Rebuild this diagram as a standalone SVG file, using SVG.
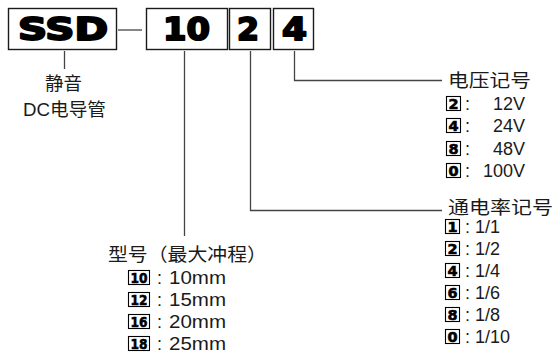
<svg xmlns="http://www.w3.org/2000/svg" width="555" height="357" viewBox="0 0 555 357">
<style>
.box{fill:#fff;stroke:#1a1a1a;stroke-width:1.4}
.hd{font-family:"DejaVu Sans","Liberation Sans",sans-serif;font-weight:bold;font-size:32px;fill:#000;stroke:#000;stroke-width:2;stroke-linejoin:round}
.cn{font-family:"Liberation Sans","Noto Sans CJK SC",sans-serif;font-size:18.5px;fill:#1a1a1a}
.tx{font-family:"Liberation Sans",sans-serif;font-size:18px;fill:#1a1a1a}
.kb{fill:#fff;stroke:#000;stroke-width:1.1}
.kd{font-family:"DejaVu Sans","Liberation Sans",sans-serif;font-weight:bold;font-size:14.5px;fill:#000;stroke:#000;stroke-width:0.6;text-anchor:middle}
.ln{fill:none;stroke:#444;stroke-width:1.3}
</style>

<g id="connectors">
<line class="ln" x1="118" y1="30" x2="142" y2="30"/>
<line class="ln" x1="64.5" y1="51" x2="64.5" y2="69"/>
<line class="ln" x1="184.5" y1="51" x2="184.5" y2="236"/>
<polyline class="ln" points="250.5,51 250.5,210.5 442,210.5"/>
<polyline class="ln" points="294.5,51 294.5,80.5 442,80.5"/>
</g>

<g id="node-ssd">
<rect class="box" x="8.5" y="8.5" width="108" height="41"/>
<text class="hd" x="18" y="40" textLength="90" lengthAdjust="spacingAndGlyphs">SSD</text>
</g>
<g id="node-10">
<rect class="box" x="146.5" y="8.5" width="81" height="41"/>
<text class="hd" x="163" y="40" textLength="47" lengthAdjust="spacingAndGlyphs">10</text>
</g>
<g id="node-2">
<rect class="box" x="229.5" y="8.5" width="41" height="41"/>
<text class="hd" x="237" y="40" textLength="22" lengthAdjust="spacingAndGlyphs">2</text>
</g>
<g id="node-4">
<rect class="box" x="273.5" y="8.5" width="40" height="41"/>
<text class="hd" x="282" y="40" textLength="25" lengthAdjust="spacingAndGlyphs">4</text>
</g>

<g id="label-ssd">
<text class="cn" x="45" y="90" textLength="37" lengthAdjust="spacingAndGlyphs">静音</text>
<text class="cn" x="23" y="116" textLength="83" lengthAdjust="spacingAndGlyphs">DC电导管</text>
</g>

<g id="label-voltage">
<text class="cn" x="448" y="87" textLength="83" lengthAdjust="spacingAndGlyphs">电压记号</text>
<rect class="kb" x="446.5" y="96.5" width="14" height="14"/><text class="kd" x="453.5" y="108.8">2</text>
<text class="tx" x="465" y="110">:</text><text class="tx" x="525" y="110" text-anchor="end">12V</text>
<rect class="kb" x="446.5" y="118.5" width="14" height="14"/><text class="kd" x="453.5" y="130.8">4</text>
<text class="tx" x="465" y="132">:</text><text class="tx" x="525" y="132" text-anchor="end">24V</text>
<rect class="kb" x="446.5" y="141.5" width="14" height="14"/><text class="kd" x="453.5" y="153.8">8</text>
<text class="tx" x="465" y="155">:</text><text class="tx" x="525" y="155" text-anchor="end">48V</text>
<rect class="kb" x="446.5" y="163.5" width="14" height="14"/><text class="kd" x="453.5" y="175.8">0</text>
<text class="tx" x="465" y="177">:</text><text class="tx" x="525" y="177" text-anchor="end">100V</text>
</g>

<g id="label-duty">
<text class="cn" x="448" y="214" textLength="105" lengthAdjust="spacingAndGlyphs">通电率记号</text>
<rect class="kb" x="445.5" y="219.5" width="14" height="14"/><text class="kd" x="452.5" y="231.8">1</text>
<text class="tx" x="465" y="233">: 1/1</text>
<rect class="kb" x="445.5" y="241.5" width="14" height="14"/><text class="kd" x="452.5" y="253.8">2</text>
<text class="tx" x="465" y="255">: 1/2</text>
<rect class="kb" x="445.5" y="263.5" width="14" height="14"/><text class="kd" x="452.5" y="275.8">4</text>
<text class="tx" x="465" y="277">: 1/4</text>
<rect class="kb" x="445.5" y="285.5" width="14" height="14"/><text class="kd" x="452.5" y="297.8">6</text>
<text class="tx" x="465" y="299">: 1/6</text>
<rect class="kb" x="445.5" y="307.5" width="14" height="14"/><text class="kd" x="452.5" y="319.8">8</text>
<text class="tx" x="465" y="321">: 1/8</text>
<rect class="kb" x="445.5" y="329.5" width="14" height="14"/><text class="kd" x="452.5" y="341.8">0</text>
<text class="tx" x="465" y="343">: 1/10</text>
</g>

<g id="label-stroke">
<text class="cn" x="108" y="261" textLength="159" lengthAdjust="spacingAndGlyphs">型号（最大冲程）</text>
<rect class="kb" x="128.5" y="270.5" width="21" height="14"/><text class="kd" x="139" y="282.8" textLength="17" lengthAdjust="spacingAndGlyphs">10</text>
<text class="tx" x="157" y="284">:</text><text class="tx" x="169" y="284" textLength="57" lengthAdjust="spacingAndGlyphs">10mm</text>
<rect class="kb" x="128.5" y="292.5" width="21" height="14"/><text class="kd" x="139" y="304.8" textLength="17" lengthAdjust="spacingAndGlyphs">12</text>
<text class="tx" x="157" y="306">:</text><text class="tx" x="169" y="306" textLength="57" lengthAdjust="spacingAndGlyphs">15mm</text>
<rect class="kb" x="128.5" y="314.5" width="21" height="14"/><text class="kd" x="139" y="326.8" textLength="17" lengthAdjust="spacingAndGlyphs">16</text>
<text class="tx" x="157" y="328">:</text><text class="tx" x="169" y="328" textLength="57" lengthAdjust="spacingAndGlyphs">20mm</text>
<rect class="kb" x="128.5" y="336.5" width="21" height="14"/><text class="kd" x="139" y="348.8" textLength="17" lengthAdjust="spacingAndGlyphs">18</text>
<text class="tx" x="157" y="350">:</text><text class="tx" x="169" y="350" textLength="57" lengthAdjust="spacingAndGlyphs">25mm</text>
</g>
</svg>
